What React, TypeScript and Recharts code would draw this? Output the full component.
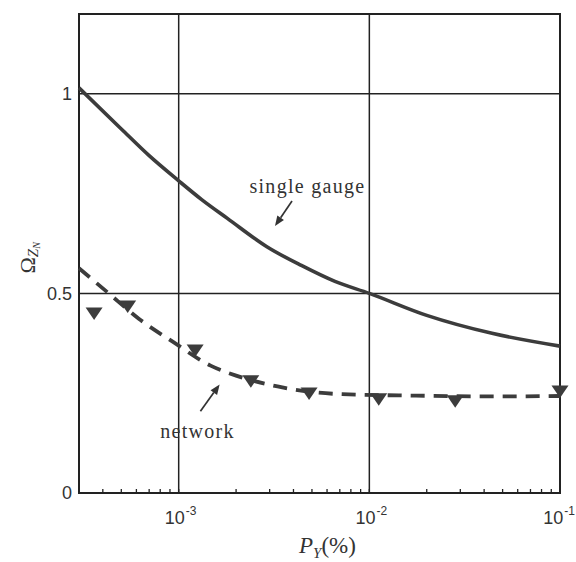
import React from 'react';
import {
  ComposedChart,
  Line,
  Scatter,
  XAxis,
  YAxis,
  ReferenceLine,
  ReferenceArea,
  ReferenceDot,
} from 'recharts';

// single gauge curve (solid)
const gaugeP = [3e-4, 5e-4, 7e-4, 1e-3, 1.32e-3, 1.8e-3, 2.9e-3, 4.4e-3, 6.6e-3, 1e-2, 2e-2, 4.4e-2, 1e-1];
const gaugeOmega = [1.015, 0.912, 0.845, 0.782, 0.735, 0.688, 0.617, 0.57, 0.53, 0.5, 0.445, 0.4, 0.368];

// network fit (dashed)
const networkP = [3e-4, 4.3e-4, 6.2e-4, 9.3e-4, 1.47e-3, 2e-3, 3.3e-3, 5e-3, 7.2e-3, 1.7e-2, 5e-2, 1e-1];
const networkOmega = [0.563, 0.5, 0.436, 0.379, 0.319, 0.294, 0.267, 0.253, 0.2475, 0.244, 0.242, 0.243];

// network simulation points (triangles)
const markerP = [3.6e-4, 5.4e-4, 1.22e-3, 2.39e-3, 4.83e-3, 1.12e-2, 2.82e-2, 1e-1];
const markerOmega = [0.45, 0.4675, 0.357, 0.28, 0.249, 0.235, 0.23, 0.254];

const xTicks = [
  4e-4, 5e-4, 6e-4, 7e-4, 8e-4, 9e-4,
  1e-3, 2e-3, 3e-3, 4e-3, 5e-3, 6e-3, 7e-3, 8e-3, 9e-3,
  1e-2, 2e-2, 3e-2, 4e-2, 5e-2, 6e-2, 7e-2, 8e-2, 9e-2,
  1e-1,
];
const yTicks = [0, 0.5, 1];
const xGrid = [1e-3, 1e-2];
const yGrid = [0.5, 1];
const X_MAX = 0.1;

const toPoints = (xs: number[], ys: number[]) => xs.map((x, i) => ({ x, y: ys[i] }));
const gaugeData = toPoints(gaugeP, gaugeOmega);
const networkData = toPoints(networkP, networkOmega);
const markerData = toPoints(markerP, markerOmega);

const INK = '#333';
const LINE = '#3c3c3c';
const FRAME = '#222';
const SANS = '"Liberation Sans", Arial, sans-serif';
const SERIF = '"Liberation Serif", "Times New Roman", serif';

const BottomTick = (props: any) => {
  const { x, y, payload } = props;
  const v = payload.value as number;
  const exp = Math.round(Math.log10(v));
  const major = Math.abs(v / Math.pow(10, exp) - 1) < 1e-6;
  // the last label sits against the right edge, so it is right-aligned
  const last = Math.abs(v - X_MAX) < 1e-9;
  return (
    <g>
      <line x1={x} y1={y} x2={x} y2={y - 4} stroke={FRAME} strokeWidth={1.3} />
      {major && (
        <text
          x={last ? x + 15 : x + 2}
          y={y + 31}
          textAnchor={last ? 'end' : 'middle'}
          fontFamily={SANS}
          fontSize={18}
          fill={INK}
        >
          10
          <tspan dx={1} dy={-9} fontSize={12}>
            {exp}
          </tspan>
        </text>
      )}
    </g>
  );
};

const TopTick = (props: any) => {
  const { x, y } = props;
  return <line x1={x} y1={y} x2={x} y2={y + 4} stroke={FRAME} strokeWidth={1.3} />;
};

const DownTriangle = (props: any) => {
  const { cx, cy } = props;
  return (
    <polygon
      points={`${cx - 8.5},${cy - 6} ${cx + 8.5},${cy - 6} ${cx},${cy + 6.5}`}
      fill={LINE}
    />
  );
};

const Arrow = (props: any) => {
  const { x1, y1, x2, y2 } = props;
  const dx = x2 - x1;
  const dy = y2 - y1;
  const len = Math.hypot(dx, dy) || 1;
  const ux = dx / len;
  const uy = dy / len;
  const head = 10;
  const half = 4;
  const bx = x2 - ux * head;
  const by = y2 - uy * head;
  return (
    <g>
      <line x1={x1} y1={y1} x2={bx} y2={by} stroke={INK} strokeWidth={1.7} />
      <polygon
        points={`${x2},${y2} ${bx - uy * half},${by + ux * half} ${bx + uy * half},${by - ux * half}`}
        fill={INK}
      />
    </g>
  );
};

const note = (text: string) => (props: any) => (
  <text
    x={props.cx}
    y={props.cy}
    fontFamily={SERIF}
    fontSize={20}
    letterSpacing={1.3}
    fill={INK}
  >
    {text}
  </text>
);

const XTitle = (props: any) => {
  const { viewBox } = props;
  const cx = viewBox.x + viewBox.width / 2 + 8;
  const y = viewBox.y + 60;
  return (
    <text x={cx} y={y} textAnchor="middle" fontFamily={SERIF} fontSize={23} fill={INK}>
      <tspan fontStyle="italic">P</tspan>
      <tspan fontStyle="italic" fontSize={15} dy={5}>
        Y
      </tspan>
      <tspan dy={-5}>(%)</tspan>
    </text>
  );
};

const YTitle = (props: any) => {
  const { viewBox } = props;
  const x = viewBox.x + 35;
  const y = viewBox.y + viewBox.height / 2 + 20;
  return (
    <text x={x} y={y} transform={`rotate(-90 ${x} ${y})`} fontFamily={SERIF} fill={INK}>
      <tspan fontSize={22}>Ω</tspan>
      <tspan fontSize={15} fontStyle="italic" dy={3}>
        Z
      </tspan>
      <tspan fontSize={10} fontStyle="italic" dy={2}>
        N
      </tspan>
    </text>
  );
};

export default function App() {
  return (
    <div style={{ position: 'absolute', left: 0, top: 0, width: 576, height: 562, background: '#fff' }}>
      <ComposedChart width={576} height={562} margin={{ top: 14, right: 16, bottom: 0, left: 0 }}>
        <XAxis
          dataKey="x"
          type="number"
          scale="log"
          domain={[3e-4, X_MAX]}
          ticks={xTicks}
          interval={0}
          tick={<BottomTick />}
          tickLine={false}
          axisLine={false}
          tickSize={0}
          tickMargin={0}
          height={69}
          label={<XTitle />}
        />
        <XAxis
          xAxisId="top"
          orientation="top"
          type="number"
          scale="log"
          domain={[3e-4, X_MAX]}
          allowDataOverflow
          ticks={xTicks}
          interval={0}
          tick={<TopTick />}
          tickLine={false}
          axisLine={false}
          tickSize={0}
          tickMargin={0}
          height={0}
        />
        <YAxis
          dataKey="y"
          type="number"
          domain={[0, 1.2]}
          ticks={yTicks}
          interval={0}
          tick={{ fontSize: 18, fill: INK, fontFamily: SANS }}
          tickLine={false}
          axisLine={false}
          tickSize={0}
          tickMargin={7}
          width={79}
          label={<YTitle />}
        />

        {xGrid.map((v) => (
          <ReferenceLine key={`gx${v}`} x={v} stroke={FRAME} strokeWidth={1.5} />
        ))}
        {yGrid.map((v) => (
          <ReferenceLine key={`gy${v}`} y={v} stroke={FRAME} strokeWidth={1.5} />
        ))}
        <ReferenceArea x1={3e-4} x2={X_MAX} y1={0} y2={1.2} fill="none" stroke={FRAME} strokeWidth={2} />

        <Line
          data={gaugeData}
          dataKey="y"
          type="monotone"
          stroke={LINE}
          strokeWidth={3.6}
          dot={false}
          isAnimationActive={false}
        />
        <Line
          data={networkData}
          dataKey="y"
          type="monotone"
          stroke={LINE}
          strokeWidth={3.8}
          strokeDasharray="14 9"
          dot={false}
          isAnimationActive={false}
        />
        <Scatter data={markerData} dataKey="y" shape={DownTriangle} isAnimationActive={false} />

        <ReferenceLine segment={[{ x: 3.93e-3, y: 0.7315 }, { x: 3.2e-3, y: 0.669 }]} shape={Arrow} />
        <ReferenceLine segment={[{ x: 1.3e-3, y: 0.205 }, { x: 1.64e-3, y: 0.272 }]} shape={Arrow} />
        <ReferenceDot x={2.35e-3} y={0.751} r={0} shape={note('single gauge')} />
        <ReferenceDot x={8.0e-4} y={0.137} r={0} shape={note('network')} />
      </ComposedChart>
    </div>
  );
}
